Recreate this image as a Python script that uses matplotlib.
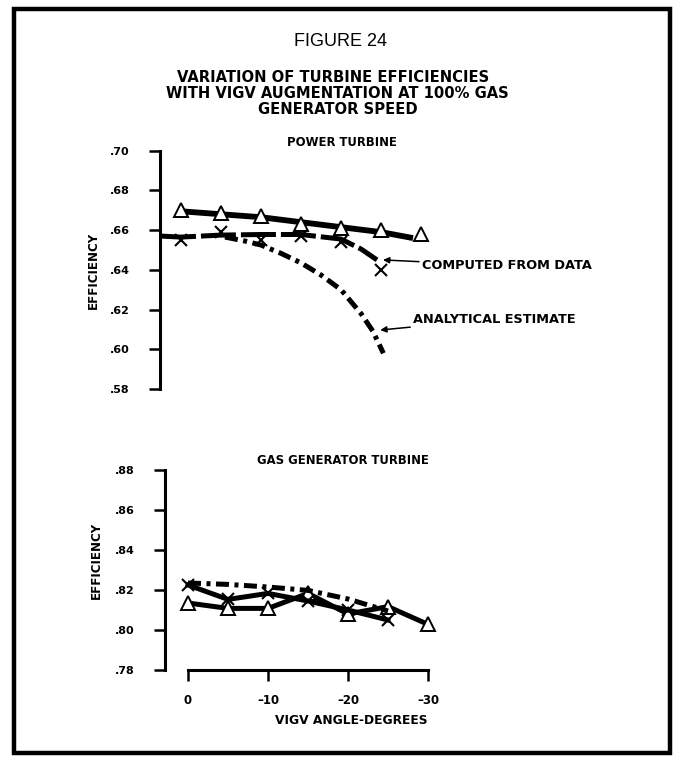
import matplotlib
matplotlib.use("Agg")
import matplotlib.pyplot as plt
from matplotlib.patches import Rectangle

plt.rcParams['font.family'] = ['DejaVu Sans']

W, H = 685, 757

# ---------------- data ----------------
angles = [0, -5, -10, -15, -20, -25, -30]
angle_ticks = [0, -10, -20, -30]
angle_tick_labels = ['0', '\u201310', '\u201320', '\u201330']

# Power turbine
pt_tri = [0.670, 0.6685, 0.667, 0.663, 0.661, 0.660, 0.658]
pt_tri_fair_x = [0, -5, -10, -15, -20, -25, -29]
pt_tri_fair = [0.6695, 0.668, 0.6665, 0.664, 0.6615, 0.659, 0.656]
pt_x_angles = [0, -5, -10, -15, -20, -25]
pt_x = [0.655, 0.659, 0.655, 0.657, 0.654, 0.640]
pt_comp_x = [2.5, 0, -5, -10, -15, -20, -22.5, -24.5]
pt_comp = [0.657, 0.6565, 0.6575, 0.6578, 0.6578, 0.6555, 0.6505, 0.645]
pt_anal_x = [-5.5, -8, -10, -12.5, -15, -17.5, -20, -22.5, -24, -25.3]
pt_anal = [0.6565, 0.6545, 0.6525, 0.6483, 0.6435, 0.6374, 0.630, 0.618, 0.609, 0.598]

# Gas generator turbine
gg_tri = [0.8135, 0.8108, 0.8108, 0.8183, 0.808, 0.8117, 0.8028]
gg_x_angles = [0, -5, -10, -15, -20, -25]
gg_x = [0.8225, 0.8153, 0.8183, 0.8145, 0.810, 0.805]
gg_anal_x = [0, -5, -10, -15, -20, -25]
gg_anal = [0.8235, 0.8228, 0.8215, 0.8198, 0.8155, 0.8095]

pt_yticks = [0.58, 0.60, 0.62, 0.64, 0.66, 0.68, 0.70]
gg_yticks = [0.78, 0.80, 0.82, 0.84, 0.86, 0.88]


def fmt(v):
    return ('%.2f' % v)[1:]


fig = plt.figure(figsize=(W / 100, H / 100), dpi=100)


def ax_rect(left_px, top_px, width_px, height_px):
    return [left_px / W, 1 - (top_px + height_px) / H, width_px / W, height_px / H]


BOLD = dict(fontweight='bold', family='DejaVu Sans')
LW = 3.6
DASHDOT = (2.6, 1.1, 0.8, 1.1)
LONGDASH = (7, 1.0)
TICKFS = 8

# ---------------- power turbine ----------------
ax1 = fig.add_axes(ax_rect(160, 150.7, 285, 238.3))
ax1.set_xlim(2.625, -33)
ax1.set_ylim(0.58, 0.70)
ax1.plot(pt_tri_fair_x, pt_tri_fair, color='black', lw=LW + 0.6,
         solid_capstyle='butt')
ax1.plot(angles, pt_tri, linestyle='none', marker='^', ms=10,
         mfc='white', mec='black', mew=1.4, zorder=5)
ax1.plot(pt_comp_x, pt_comp, color='black', lw=LW, dashes=LONGDASH,
         dash_capstyle='butt')
ax1.plot(pt_x_angles, pt_x, linestyle='none', marker='x', ms=8.5,
         mec='black', mew=1.5, zorder=5)
ax1.plot(pt_anal_x, pt_anal, color='black', lw=LW, dashes=DASHDOT,
         dash_capstyle='butt')

ax1.annotate('COMPUTED FROM DATA', xy=(-25.25, 0.6450), xytext=(-30.1, 0.6420),
             ha='left', va='center', fontsize=9.3, annotation_clip=False,
             arrowprops=dict(arrowstyle='-|>', lw=1.1, color='black',
                             mutation_scale=9, shrinkA=0, shrinkB=0), **BOLD)
ax1.annotate('ANALYTICAL ESTIMATE', xy=(-24.9, 0.6097), xytext=(-29.0, 0.6152),
             ha='left', va='center', fontsize=9.3, annotation_clip=False,
             arrowprops=dict(arrowstyle='-|>', lw=1.1, color='black',
                             mutation_scale=9, shrinkA=0, shrinkB=0), **BOLD)

ax1.set_yticks(pt_yticks)
ax1.set_yticklabels([fmt(v) for v in pt_yticks], fontsize=TICKFS, **BOLD)
ax1.set_xticks([])
for s in ('top', 'right', 'bottom'):
    ax1.spines[s].set_visible(False)
ax1.spines['left'].set_linewidth(2.2)
ax1.tick_params(axis='y', direction='out', length=8, width=1.8, pad=14)

# ---------------- gas generator turbine ----------------
ax2 = fig.add_axes(ax_rect(165, 470, 287, 200))
ax2.set_xlim(2.875, -33)
ax2.set_ylim(0.78, 0.88)
ax2.plot(angles, gg_tri, color='black', lw=LW, marker='^', ms=10,
         mfc='white', mec='black', mew=1.4)
ax2.plot(gg_x_angles, gg_x, color='black', lw=LW, marker='x', ms=8.5,
         mec='black', mew=1.5)
ax2.plot(gg_anal_x, gg_anal, color='black', lw=LW, dashes=DASHDOT,
         dash_capstyle='butt')

ax2.set_yticks(gg_yticks)
ax2.set_yticklabels([fmt(v) for v in gg_yticks], fontsize=TICKFS, **BOLD)
ax2.set_xticks(angle_ticks)
ax2.set_xticklabels(angle_tick_labels, fontsize=8.5, **BOLD)
for s in ('top', 'right'):
    ax2.spines[s].set_visible(False)
ax2.spines['left'].set_linewidth(2.2)
ax2.spines['bottom'].set_linewidth(2.2)
ax2.spines['bottom'].set_bounds(0, -30)
ax2.tick_params(axis='y', direction='out', length=8, width=1.8, pad=14)
ax2.tick_params(axis='x', direction='out', length=8, width=1.8, pad=9)


# ---------------- text ----------------
def ftext(x, y, s, **kw):
    fig.text(x / W, 1 - y / H, s, ha='center', va='center', **kw)


ftext(341, 41, 'FIGURE 24', fontsize=13, family='Liberation Sans')
ftext(333, 78, 'VARIATION OF TURBINE EFFICIENCIES', fontsize=10.6, **BOLD)
ftext(337, 94, 'WITH VIGV AUGMENTATION AT 100% GAS', fontsize=10.6, **BOLD)
ftext(338, 109, 'GENERATOR SPEED', fontsize=10.6, **BOLD)
ftext(342, 142, 'POWER TURBINE', fontsize=8.4, **BOLD)
ftext(343, 461, 'GAS GENERATOR TURBINE', fontsize=8.4, **BOLD)
ftext(93, 270, 'EFFICIENCY', fontsize=8.6, rotation=90, **BOLD)
ftext(96, 560, 'EFFICIENCY', fontsize=8.6, rotation=90, **BOLD)
ftext(351, 721, 'VIGV ANGLE-DEGREES', fontsize=8.8, **BOLD)

# page frame
fig.patches.append(Rectangle((14 / W, 1 - 753 / H), (669.5 - 14) / W, (753 - 9) / H,
                             transform=fig.transFigure, fill=False,
                             edgecolor='black', linewidth=3.2))

fig.savefig('out.png', dpi=100)
